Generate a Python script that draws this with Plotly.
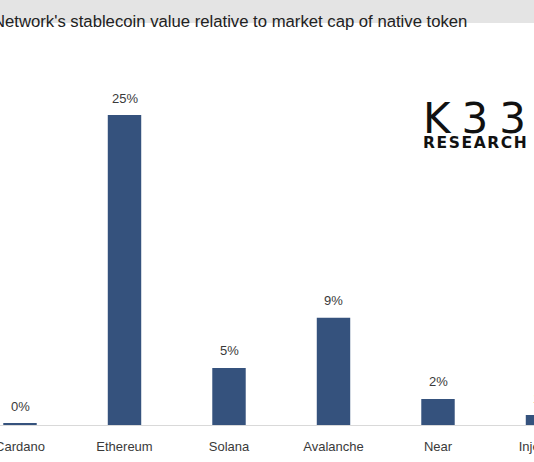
import plotly.graph_objects as go

# ---- data ----
networks = ["Cardano", "Ethereum", "Solana", "Avalanche", "Near", "Injective"]
ratio_pct = [0.15, 25.0, 4.6, 8.65, 2.1, 0.8]
labels = [f"{v:.0f}%" for v in ratio_pct]

title_text = "Network's stablecoin value relative to market cap of native token"

BAR = "#35527d"
TXT = "#3a3a3a"
W = 560

fig = go.Figure()
fig.add_trace(go.Bar(
    x=networks, y=ratio_pct, marker=dict(color=BAR, line=dict(width=0)),
    width=0.32, hoverinfo="skip",
))

for n, v, t in zip(networks, ratio_pct, labels):
    fig.add_annotation(x=n, y=v, xref="x", yref="y", text=t, showarrow=False,
                       yanchor="middle", yshift=17,
                       font=dict(family="Liberation Sans, Arial", size=13, color=TXT))

# title (cropped on the left like the reference)
fig.add_annotation(xref="paper", yref="paper", x=-9 / W, y=(425 - 21) / 372, xanchor="left",
                   yanchor="middle", text=title_text, showarrow=False,
                   font=dict(family="Liberation Sans, Arial", size=16.7, color="#222222"))

# grey band at the top
fig.add_shape(type="rect", xref="paper", yref="paper", x0=-0.05, x1=1.05,
              y0=(425 - 23) / 372, y1=1.2, fillcolor="#e4e4e4", line=dict(width=0),
              layer="below")

# K33 Research logo
fig.add_annotation(xref="paper", yref="paper", x=421 / W, y=(425 - 118) / 372,
                   xanchor="left", yanchor="middle", height=34,
                   text='<span style="letter-spacing:11px">K33</span>', showarrow=False,
                   font=dict(family="DejaVu Sans, Liberation Sans", size=42, color="#111111"))
fig.add_annotation(xref="paper", yref="paper", x=421 / W, y=(425 - 143) / 372,
                   xanchor="left", yanchor="middle", height=14,
                   text='<span style="letter-spacing:1.6px"><b>RESEARCH</b></span>', showarrow=False,
                   font=dict(family="DejaVu Sans, Liberation Sans", size=15.5, color="#111111"))

fig.update_layout(
    width=W, height=462,
    margin=dict(l=0, r=0, t=53, b=37, autoexpand=False),
    paper_bgcolor="white", plot_bgcolor="white",
    showlegend=False,
    xaxis=dict(range=[-20 / 104.5, (W - 20) / 104.5], showgrid=False, automargin=False,
               showline=True, linecolor="#d9d9d9", linewidth=1,
               ticks="outside", ticklen=9, tickcolor="rgba(0,0,0,0)",
               tickfont=dict(family="Liberation Sans, Arial", size=13, color=TXT),
               zeroline=False, fixedrange=True),
    yaxis=dict(range=[0, 30], visible=False, fixedrange=True, automargin=False),
)

fig.write_html("out.html", config={"displayModeBar": False},
               post_script="document.body.style.overflow='hidden';document.body.style.margin='0';")
